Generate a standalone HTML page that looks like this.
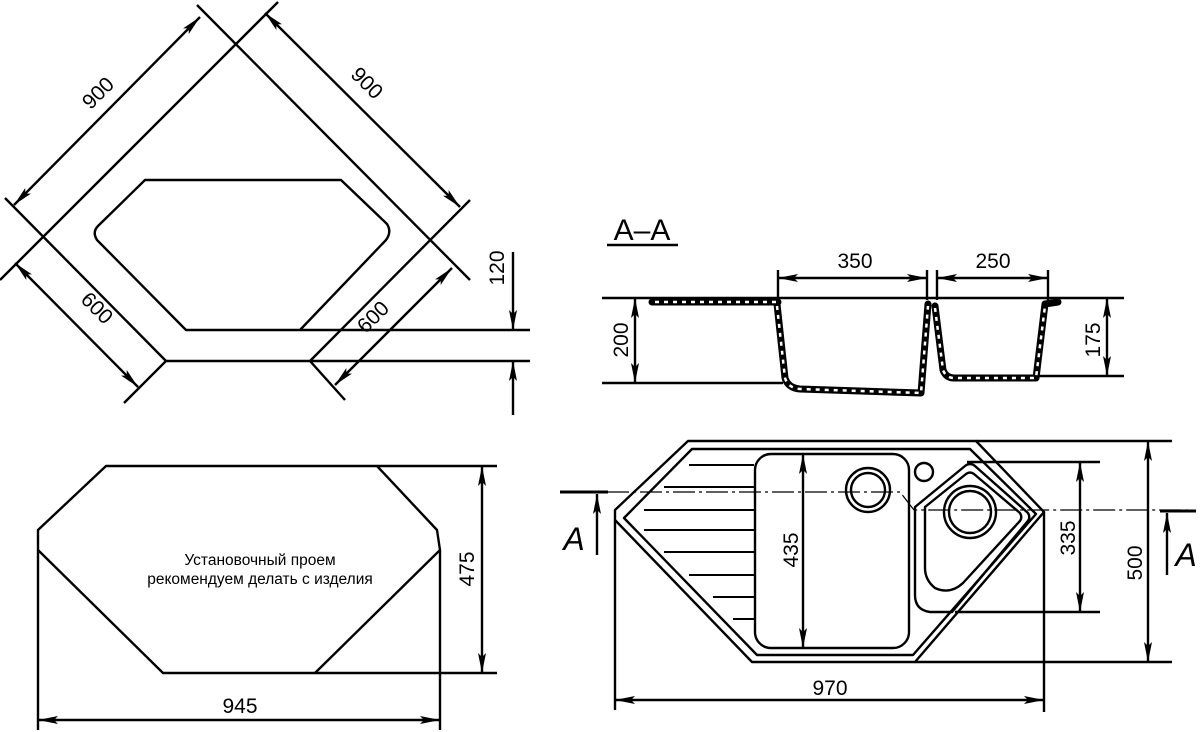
<!DOCTYPE html>
<html><head><meta charset="utf-8"><style>
html,body{margin:0;padding:0;background:#fff}
svg{display:block}
text{font-family:"Liberation Sans",sans-serif;fill:#000}
</style></head><body>
<svg width="1200" height="732" viewBox="0 0 1200 732" xmlns="http://www.w3.org/2000/svg">
<defs>
<marker id="ar" viewBox="0 0 20 8" refX="20" refY="4" markerWidth="20" markerHeight="8" markerUnits="userSpaceOnUse" orient="auto-start-reverse">
<path d="M0,0 L20,4 L0,8 L4,4 Z" fill="#000"/>
</marker>
</defs>
<g fill="none" stroke="#000" stroke-width="2.4" stroke-linejoin="round">
<!-- TOP-LEFT -->
<line x1="278" y1="2" x2="0" y2="280"/>
<line x1="197" y1="5" x2="470" y2="280"/>
<line x1="5" y1="198" x2="166" y2="361"/>
<line x1="166" y1="361" x2="124" y2="403"/>
<line x1="470" y1="200" x2="310" y2="361"/>
<line x1="310" y1="361" x2="345" y2="400"/>
<line x1="166" y1="361" x2="530" y2="361"/>
<path d="M145,180 L341,180 L387,224 Q392,232 386,240 L300,330 L186,330 L97,240 Q92,232 98,226 Z"/>
<line x1="300" y1="330" x2="530" y2="330"/>
<line x1="14" y1="205" x2="200" y2="17" marker-start="url(#ar)" marker-end="url(#ar)"/>
<line x1="265" y1="13" x2="460" y2="207" marker-start="url(#ar)" marker-end="url(#ar)"/>
<line x1="15" y1="263" x2="138" y2="387" marker-start="url(#ar)" marker-end="url(#ar)"/>
<line x1="452" y1="268" x2="335" y2="385" marker-start="url(#ar)" marker-end="url(#ar)"/>
<line x1="513" y1="252" x2="513" y2="330" marker-end="url(#ar)"/>
<line x1="513" y1="415" x2="513" y2="361" marker-end="url(#ar)"/>
<!-- BOTTOM-LEFT -->
<path d="M106,466 L377,466 L437,530 L440,550 L315,673 L163,673 L38,550 L38,530 Z"/>
<line x1="377" y1="466" x2="497" y2="466"/>
<line x1="315" y1="673" x2="497" y2="673"/>
<line x1="38" y1="550" x2="38" y2="730"/>
<line x1="440" y1="550" x2="440" y2="730"/>
<line x1="38" y1="720" x2="440" y2="720" marker-start="url(#ar)" marker-end="url(#ar)"/>
<line x1="482" y1="466" x2="482" y2="673" marker-start="url(#ar)" marker-end="url(#ar)"/>
<!-- SECTION A-A -->
<line x1="607" y1="245" x2="678" y2="245"/>
<line x1="602" y1="298" x2="1124" y2="298"/>
<line x1="602" y1="383" x2="783" y2="383"/>
<line x1="1038" y1="376" x2="1124" y2="376"/>
<line x1="635" y1="298" x2="635" y2="383" marker-start="url(#ar)" marker-end="url(#ar)"/>
<line x1="1107" y1="298" x2="1107" y2="376" marker-start="url(#ar)" marker-end="url(#ar)"/>
<line x1="778" y1="270" x2="778" y2="300"/>
<line x1="927" y1="270" x2="927" y2="300"/>
<line x1="937" y1="270" x2="937" y2="300"/>
<line x1="1048" y1="270" x2="1048" y2="300"/>
<line x1="778" y1="278" x2="927" y2="278" marker-start="url(#ar)" marker-end="url(#ar)"/>
<line x1="937" y1="278" x2="1048" y2="278" marker-start="url(#ar)" marker-end="url(#ar)"/>
<g stroke-width="7" stroke-linecap="round">
<path d="M652,302 L778,302"/>
<path d="M777,304 L785,378 Q788,388 800,389 L921,393 L928,304"/>
<path d="M935,306 L943,370 Q946,378 954,378 L1036,378 L1045,304 L1058,302"/>
</g>
<g stroke="#fff" stroke-width="2.5" stroke-dasharray="4 5">
<path d="M655,302 L776,302"/>
<path d="M777,306 L785,378 Q788,388 800,389 L921,393 L928,306"/>
<path d="M935,308 L943,370 Q946,378 954,378 L1036,378 L1045,306"/>
</g>
<!-- BOTTOM-RIGHT -->
<path d="M688,441 L976,441 L1044,512 L915,662 L752,662 L615,520 L615,510 Z"/>
<path d="M692,449 L970,449 L1036,514 L913,655 L757,655 L624,518 Z"/>
<line x1="976" y1="441" x2="1172" y2="441"/>
<line x1="915" y1="662" x2="1172" y2="662"/>
<rect x="755" y="454" width="154" height="194" rx="16"/>
<circle cx="868" cy="490" r="22"/>
<circle cx="868" cy="490" r="17"/>
<circle cx="924" cy="472" r="9"/>
<path d="M915,507 L965,466 Q970,462 975,466 L1028,513 Q1031,518 1027,522 L952,612 L930,612 Q915,610 915,595 Z"/>
<path d="M925,507 L966,474 Q970,471 974,474 L1020,513 Q1023,518 1019,522 L963,583 Q950,595 935,588 Q925,580 925,568 Z"/>
<circle cx="970" cy="512" r="26"/>
<circle cx="970" cy="512" r="21"/>
<g stroke-width="2">
<line x1="689" y1="465" x2="754" y2="465"/>
<line x1="664" y1="487" x2="754" y2="487"/>
<line x1="644" y1="510" x2="754" y2="510"/>
<line x1="644" y1="530" x2="754" y2="530"/>
<line x1="664" y1="552" x2="754" y2="552"/>
<line x1="689" y1="575" x2="754" y2="575"/>
<line x1="713" y1="597" x2="754" y2="597"/>
<line x1="733" y1="619" x2="754" y2="619"/>
</g>
<line x1="967" y1="462" x2="1100" y2="462"/>
<line x1="955" y1="612" x2="1100" y2="612"/>
<line x1="803" y1="454" x2="803" y2="648" marker-start="url(#ar)" marker-end="url(#ar)"/>
<line x1="1080" y1="462" x2="1080" y2="612" marker-start="url(#ar)" marker-end="url(#ar)"/>
<line x1="1148" y1="441" x2="1148" y2="662" marker-start="url(#ar)" marker-end="url(#ar)"/>
<line x1="615" y1="520" x2="615" y2="710"/>
<line x1="1044" y1="512" x2="1044" y2="712"/>
<line x1="615" y1="700" x2="1044" y2="700" marker-start="url(#ar)" marker-end="url(#ar)"/>
<path d="M607,492 L900,492 L914,510 L1188,510" stroke-width="1.2" stroke-dasharray="22 4 3 4"/>
<line x1="560" y1="492" x2="608" y2="492" stroke-width="3"/>
<line x1="1160" y1="511" x2="1196" y2="511" stroke-width="3"/>
<line x1="597" y1="555" x2="597" y2="494" marker-end="url(#ar)"/>
<line x1="1167" y1="575" x2="1167" y2="513" marker-end="url(#ar)"/>
</g>
<!-- TEXT -->
<g font-size="21">
<text transform="translate(103,98) rotate(-45)" text-anchor="middle">900</text>
<text transform="translate(362,88) rotate(45)" text-anchor="middle">900</text>
<text transform="translate(92,313) rotate(45)" text-anchor="middle">600</text>
<text transform="translate(378,322) rotate(-45)" text-anchor="middle">600</text>
<text transform="translate(504,268) rotate(-90)" text-anchor="middle">120</text>
<text x="240" y="713" text-anchor="middle">945</text>
<text transform="translate(474,569) rotate(-90)" text-anchor="middle">475</text>
<text x="855" y="268" text-anchor="middle">350</text>
<text x="993" y="268" text-anchor="middle">250</text>
<text transform="translate(628,340) rotate(-90)" text-anchor="middle">200</text>
<text transform="translate(1100,340) rotate(-90)" text-anchor="middle">175</text>
<text transform="translate(798,550) rotate(-90)" text-anchor="middle">435</text>
<text transform="translate(1075,538) rotate(-90)" text-anchor="middle">335</text>
<text transform="translate(1142,563) rotate(-90)" text-anchor="middle">500</text>
<text x="830" y="695" text-anchor="middle">970</text>
</g>
<text x="642" y="240" font-size="30" text-anchor="middle">A–A</text>
<text x="574" y="550" font-size="32" font-style="italic" text-anchor="middle">A</text>
<text x="1186" y="566" font-size="32" font-style="italic" text-anchor="middle">A</text>
<text x="260" y="565" font-size="15.5" text-anchor="middle">Установочный проем</text>
<text x="260" y="584" font-size="15.5" text-anchor="middle">рекомендуем делать с изделия</text>
</svg>
</body></html>
